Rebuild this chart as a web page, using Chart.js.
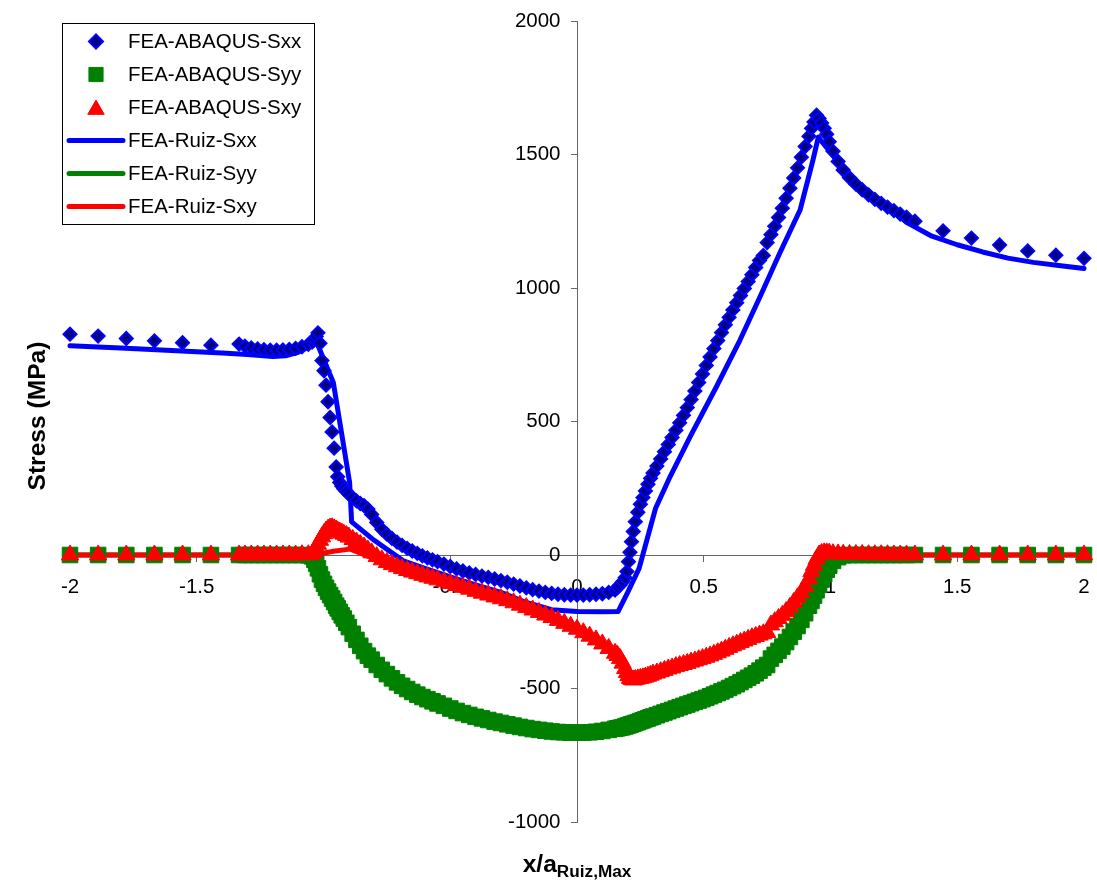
<!DOCTYPE html>
<html>
<head>
<meta charset="utf-8">
<title>Contact stresses along x/a</title>
<script src="https://cdn.jsdelivr.net/npm/chart.js@4.4.0/dist/chart.umd.min.js"></script>
<style>
  html, body { margin: 0; padding: 0; background: #ffffff; }
  #wrap { width: 1097px; height: 886px; }
  canvas { display: block; }
</style>
</head>
<body>
<div id="wrap"><canvas id="stressChart" width="1097" height="886"></canvas></div>
<script>
// ---- Data -----------------------------------------------------------------
// ABAQUS surface nodes (x / a Ruiz,Max), shared by the three ABAQUS stress components
const abqX = [
  -2, -1.889, -1.778, -1.667, -1.556, -1.444,
  -1.333, -1.31, -1.285, -1.26, -1.235, -1.21, -1.185, -1.16, -1.135, -1.11, -1.085, -1.06,
  -1.045, -1.036, -1.029, -1.022, -1.014, -1.006, -0.998, -0.99, -0.982, -0.974, -0.966, -0.958, -0.95,
  -0.944, -0.936, -0.928, -0.92, -0.91, -0.9, -0.885, -0.87, -0.855, -0.84, -0.825, -0.81,
  -0.79, -0.77, -0.75, -0.73, -0.71, -0.69, -0.67, -0.65, -0.63, -0.61, -0.59, -0.57, -0.55,
  -0.525, -0.5, -0.475, -0.45, -0.425, -0.4, -0.375, -0.35, -0.325, -0.3, -0.275, -0.25, -0.225, -0.2,
  -0.175, -0.15, -0.125, -0.1, -0.075, -0.05, -0.025, 0, 0.025, 0.05, 0.075, 0.1, 0.125, 0.15,
  0.16, 0.17, 0.18, 0.19, 0.197, 0.203, 0.209, 0.215, 0.222, 0.23, 0.24, 0.25, 0.26, 0.27, 0.28, 0.29,
  0.3, 0.315, 0.33, 0.345, 0.36, 0.375, 0.39, 0.405, 0.42, 0.435, 0.45, 0.465, 0.48, 0.495,
  0.51, 0.525, 0.54, 0.555, 0.57, 0.585, 0.6, 0.615, 0.63, 0.645, 0.66, 0.675, 0.69, 0.705,
  0.72, 0.735, 0.75, 0.765, 0.78, 0.795, 0.81, 0.825, 0.84, 0.855, 0.87, 0.885, 0.9, 0.915,
  0.925, 0.935, 0.945, 0.955, 0.965, 0.975, 0.985, 0.995,
  1.01, 1.03, 1.05, 1.075, 1.1, 1.125, 1.15, 1.175, 1.2, 1.225, 1.25, 1.275, 1.3, 1.333,
  1.444, 1.556, 1.667, 1.778, 1.889, 2
];

const abqSxx = [
  827, 820, 811, 802, 795, 786,
  790, 782, 776, 772, 769, 767, 767, 768, 770, 774, 780, 789,
  797, 806, 818, 832, 793, 728, 690, 636, 574, 515, 461, 400, 330,
  293, 272, 258, 248, 238, 228, 214, 203, 193, 185, 172, 152,
  122, 96, 78, 62, 48, 36, 25, 15, 6, -3, -11, -18, -25,
  -34, -43, -52, -60, -67, -73, -79, -84, -90, -96, -102, -109, -116, -123,
  -130, -135, -140, -144, -147, -149, -150, -150, -150, -149, -147, -145, -140, -131,
  -122, -112, -100, -85, -62, -25, 10, 50, 88, 125, 160, 190, 215, 240, 265, 287,
  307, 333, 360, 387, 414, 440, 467, 495, 523, 552, 582, 614, 646, 678,
  710, 742, 773, 803, 833, 862, 890, 918, 945, 972, 998, 1024, 1050, 1077,
  1103, 1122, 1170, 1200, 1231, 1264, 1299, 1336, 1374, 1412, 1450, 1490, 1530, 1568,
  1598, 1622, 1647, 1635, 1618, 1598, 1576, 1548,
  1512, 1474, 1442, 1413, 1389, 1368, 1349, 1332, 1317, 1303, 1290, 1277, 1265, 1250,
  1214, 1187, 1161, 1139, 1123, 1111
];

const abqSyy = [
  0, 0, 0, 0, 0, 0,
  0, 0, 0, 0, 0, 0, 0, 0, 0, 0, 0, -1,
  -5, -18, -32, -50, -72, -92, -108, -123, -137, -150, -163, -176, -190,
  -200, -213, -226, -238, -254, -270, -295, -318, -340, -360, -377, -392,
  -412, -430, -446, -462, -477, -490, -502, -513, -523, -532, -540, -548, -556,
  -565, -575, -584, -592, -599, -606, -612, -618, -624, -629, -634, -639, -644, -648,
  -652, -655, -658, -661, -663, -664, -665, -665, -665, -664, -662, -659, -655, -651,
  -649, -647, -645, -642, -640, -638, -636, -634, -632, -629, -626, -622, -619, -615, -612, -608,
  -605, -600, -595, -590, -585, -580, -575, -570, -565, -560, -555, -550, -545, -540,
  -535, -529, -523, -517, -511, -505, -498, -491, -484, -476, -468, -460, -452, -443,
  -433, -422, -412, -388, -374, -359, -343, -326, -307, -287, -266, -243, -218, -190,
  -172, -152, -132, -112, -92, -72, -55, -40,
  -22, -8, -1, 0, 0, 0, 0, 0, 0, 0, 0, 0, 0, 0,
  0, 0, 0, 0, 0, 0
];

const abqSxy = [
  0, 0, 0, 0, 0, 0,
  0, 0, 0, 0, 0, 0, 0, 0, 0, 0, 1, 1,
  3, 12, 26, 40, 55, 68, 80, 90, 97, 101, 102, 98, 94,
  90, 86, 82, 78, 73, 67, 58, 49, 40, 30, 19, 8,
  -6, -18, -28, -36, -44, -51, -58, -64, -70, -76, -82, -87, -93,
  -100, -107, -114, -121, -128, -136, -143, -150, -157, -164, -171, -179, -188, -197,
  -206, -215, -225, -234, -245, -256, -267, -278, -291, -304, -318, -333, -350, -368,
  -376, -388, -405, -425, -440, -452, -462, -466, -468, -466, -464, -462, -460, -457, -454, -450,
  -446, -442, -437, -432, -427, -423, -418, -414, -410, -406, -401, -397, -392, -388,
  -383, -378, -372, -366, -360, -353, -346, -340, -334, -328, -322, -316, -310, -305,
  -300, -295, -290, -262, -250, -238, -226, -212, -196, -178, -160, -140, -118, -90,
  -62, -38, -16, 0, 6, 8, 8, 7,
  5, 4, 3, 2, 2, 2, 1, 1, 1, 1, 0, 0, 0, 0,
  0, 0, 0, 0, 0, 0
];

// Ruiz solution nodes and stress components (MPa)
const ruizX = [
  -2, -1.8, -1.6, -1.4, -1.3, -1.2, -1.15, -1.1, -1.06, -1.026,
  -0.961, -0.897, -0.889, -0.8, -0.685, -0.6, -0.5, -0.4, -0.3, -0.2,
  -0.1, 0, 0.1, 0.162, 0.2, 0.245, 0.31, 0.367, 0.45, 0.55,
  0.643, 0.722, 0.8, 0.88, 0.931, 0.952, 1.0, 1.05, 1.1, 1.15,
  1.2, 1.3, 1.4, 1.5, 1.6, 1.7, 1.8, 1.9, 2
];
const ruizSxx = [
  784, 775, 766, 757, 751, 743, 746, 759, 779, 795,
  645, 272, 124, 55, -22, -50, -82, -112, -140, -178,
  -205, -212, -213, -212, -140, -50, 175, 293, 450, 630,
  805, 967, 1131, 1292, 1480, 1565, 1508, 1448, 1400, 1362,
  1326, 1246, 1194, 1162, 1135, 1112, 1096, 1084, 1073
];
const ruizSyy = [
  0, 0, 0, 0, 0, 0, 0, 0, 0, -40,
  -175, -280, -292, -406, -488, -535, -579, -607, -629, -647,
  -659, -664, -660, -649, -639, -625, -603, -585, -556, -517,
  -476, -428, -352, -245, -150, -108, -25, 0, 0, 0,
  0, 0, 0, 0, 0, 0, 0, 0, 0
];
const ruizSxy = [
  0, 0, 0, 0, 0, 0, 0, 0, 0, 2,
  14, 22, 20, -14, -52, -80, -108, -137, -165, -198,
  -235, -278, -333, -380, -445, -465, -443, -427, -402, -366,
  -329, -300, -238, -148, -55, -8, 3, 1, 0, 0,
  0, 0, 0, 0, 0, 0, 0, 0, 0
];

// Axis ticks
const xTickValues = [-2, -1.5, -1, -0.5, 0, 0.5, 1, 1.5, 2];
const yTickValues = [-1000, -500, 0, 500, 1000, 1500, 2000];

const seriesNames = [
  'FEA-ABAQUS-Sxx', 'FEA-ABAQUS-Syy', 'FEA-ABAQUS-Sxy',
  'FEA-Ruiz-Sxx', 'FEA-Ruiz-Syy', 'FEA-Ruiz-Sxy'
];

// ---- Styling --------------------------------------------------------------
const FONT = "'Liberation Sans', Arial, Helvetica, sans-serif";
const BLUE = '#0000FF', NAVY = '#000080', GREEN = '#008000', RED = '#FF0000';
const AXIS = '#666666';
const TICK_SIZE = 20.5;
const TITLE_SIZE = 24.6;

const toPoints = (xs, ys) => xs.map((x, i) => ({ x: x, y: ys[i] }));
const plainNumber = v => String(Math.round(v * 1000) / 1000);

function markerSet(label, ys, style, radius, fill, stroke, bw, order) {
  return {
    label: label,
    data: toPoints(abqX, ys),
    showLine: false,
    pointStyle: style,
    pointRadius: radius,
    pointHoverRadius: radius,
    pointBackgroundColor: fill,
    pointBorderColor: stroke,
    pointBorderWidth: bw,
    backgroundColor: fill,
    borderColor: stroke,
    order: order,
    clip: false
  };
}

function lineSet(label, ys, color, order) {
  return {
    label: label,
    data: toPoints(ruizX, ys),
    showLine: true,
    borderColor: color,
    backgroundColor: color,
    borderWidth: 5,
    borderCapStyle: 'round',
    borderJoinStyle: 'round',
    pointRadius: 0,
    pointHoverRadius: 0,
    pointStyle: 'line',
    tension: 0,
    fill: false,
    order: order,
    clip: false
  };
}

// Symbol used for a series in the legend box
function drawSymbol(ctx, ds, cx, cy, r) {
  ctx.save();
  if (ds.showLine) {
    ctx.strokeStyle = ds.borderColor;
    ctx.lineWidth = ds.borderWidth;
    ctx.lineCap = 'round';
    ctx.beginPath();
    ctx.moveTo(cx - 27, cy);
    ctx.lineTo(cx + 27, cy);
    ctx.stroke();
    ctx.restore();
    return;
  }
  ctx.fillStyle = ds.pointBackgroundColor;
  ctx.strokeStyle = ds.pointBorderColor;
  ctx.lineWidth = ds.pointBorderWidth;
  ctx.beginPath();
  if (ds.pointStyle === 'rectRot') {
    ctx.moveTo(cx - r, cy);
    ctx.lineTo(cx, cy - r);
    ctx.lineTo(cx + r, cy);
    ctx.lineTo(cx, cy + r);
  } else if (ds.pointStyle === 'rect') {
    const s = r * Math.SQRT1_2;
    ctx.rect(cx - s, cy - s, 2 * s, 2 * s);
  } else {
    const ty = cy + r * 0.22;
    for (let k = 0; k < 3; k++) {
      const a = k * 2 * Math.PI / 3;
      const px = cx + Math.sin(a) * r, py = ty - Math.cos(a) * r;
      if (k === 0) ctx.moveTo(px, py); else ctx.lineTo(px, py);
    }
  }
  ctx.closePath();
  ctx.fill();
  if (ds.pointBorderWidth > 0) ctx.stroke();
  ctx.restore();
}

// Legend symbol sizes (marker series only)
const legendRadius = { rectRot: 7, rect: 10, triangle: 9.5 };

// Value labels of the stress axis, the two axis titles and the boxed legend
const decorations = {
  id: 'decorations',
  beforeDatasetsDraw(chart) {
    const { ctx } = chart;
    const xs = chart.scales.x, ys = chart.scales.y;
    const axisX = xs.getPixelForValue(0);
    ctx.save();
    ctx.font = TICK_SIZE + 'px ' + FONT;
    ctx.fillStyle = '#000000';
    ctx.textAlign = 'right';
    ctx.textBaseline = 'middle';
    yTickValues.forEach(v => ctx.fillText(plainNumber(v), axisX - 16.5, ys.getPixelForValue(v)));
    ctx.restore();
  },
  afterDraw(chart) {
    const { ctx, chartArea } = chart;
    ctx.save();
    ctx.fillStyle = '#000000';

    // Stress axis title
    ctx.save();
    ctx.translate(45, 416);
    ctx.rotate(-Math.PI / 2);
    ctx.font = 'bold ' + TITLE_SIZE + 'px ' + FONT;
    ctx.textAlign = 'center';
    ctx.textBaseline = 'alphabetic';
    ctx.fillText('Stress (MPa)', 0, 0);
    ctx.restore();

    // Position axis title with subscript
    const mainFont = 'bold ' + TITLE_SIZE + 'px ' + FONT;
    const subFont = 'bold 17.2px ' + FONT;
    ctx.font = mainFont;
    const w1 = ctx.measureText('x/a').width;
    ctx.font = subFont;
    const w2 = ctx.measureText('Ruiz,Max').width;
    const cx = (chartArea.left + chartArea.right) / 2;
    const start = cx - (w1 + w2) / 2;
    ctx.textAlign = 'left';
    ctx.textBaseline = 'alphabetic';
    ctx.font = mainFont;
    ctx.fillText('x/a', start, 871.5);
    ctx.font = subFont;
    ctx.fillText('Ruiz,Max', start + w1, 877);

    // Legend
    const box = { l: 62, t: 23, r: 314, b: 224 };
    ctx.fillStyle = '#ffffff';
    ctx.fillRect(box.l, box.t, box.r - box.l, box.b - box.t);
    ctx.strokeStyle = '#000000';
    ctx.lineWidth = 1;
    ctx.strokeRect(box.l + 0.5, box.t + 0.5, box.r - box.l, box.b - box.t);
    ctx.font = TICK_SIZE + 'px ' + FONT;
    ctx.textAlign = 'left';
    ctx.textBaseline = 'middle';
    chart.data.datasets.forEach((ds, i) => {
      const rowY = 41.5 + i * 33;
      drawSymbol(ctx, ds, 96, rowY, legendRadius[ds.pointStyle] || 0);
      ctx.fillStyle = '#000000';
      ctx.fillText(ds.label, 128, rowY + 1);
    });
    ctx.restore();
  }
};

const datasets = [
  markerSet(seriesNames[0], abqSxx, 'rectRot', 6.5, NAVY, BLUE, 2, 2),
  markerSet(seriesNames[1], abqSyy, 'rect', 11, GREEN, GREEN, 1, 1),
  markerSet(seriesNames[2], abqSxy, 'triangle', 10, RED, RED, 1, 0),
  lineSet(seriesNames[3], ruizSxx, BLUE, 5),
  lineSet(seriesNames[4], ruizSyy, GREEN, 4),
  lineSet(seriesNames[5], ruizSxy, RED, 3)
];

const axisGrid = {
  display: true,
  drawOnChartArea: false,
  drawTicks: true,
  tickLength: 6,
  tickColor: AXIS,
  tickWidth: 1
};

new Chart(document.getElementById('stressChart'), {
  type: 'scatter',
  data: { datasets: datasets },
  options: {
    responsive: false,
    animation: false,
    devicePixelRatio: 1,
    layout: { padding: { left: 70, right: 13, top: 21, bottom: 64 } },
    plugins: {
      legend: { display: false },
      tooltip: { enabled: false },
      title: { display: false }
    },
    scales: {
      x: {
        type: 'linear',
        position: { y: 0 },
        min: xTickValues[0],
        max: xTickValues[xTickValues.length - 1],
        ticks: {
          stepSize: xTickValues[1] - xTickValues[0],
          autoSkip: false,
          maxRotation: 0,
          padding: 5.5,
          color: '#000000',
          font: { family: FONT, size: TICK_SIZE, lineHeight: 2 },
          callback: v => plainNumber(v)
        },
        grid: axisGrid,
        border: { display: true, color: AXIS, width: 1 }
      },
      y: {
        type: 'linear',
        position: { x: 0 },
        min: yTickValues[0],
        max: yTickValues[yTickValues.length - 1],
        ticks: {
          stepSize: yTickValues[1] - yTickValues[0],
          display: false
        },
        grid: axisGrid,
        border: { display: true, color: AXIS, width: 1 }
      }
    }
  },
  plugins: [decorations]
});
</script>
</body>
</html>
